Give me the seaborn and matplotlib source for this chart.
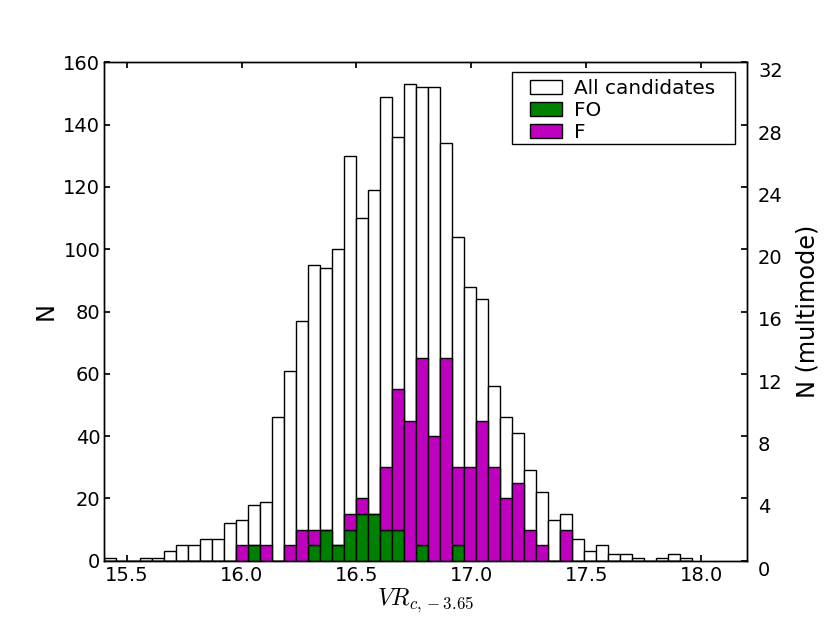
import numpy as np
import pandas as pd
import seaborn as sns
import matplotlib.pyplot as plt
from matplotlib.patches import Patch
from matplotlib.path import Path

# histogram binning (VR magnitude)
mag_lo = 15.40
mag_hi = 17.96
n_bins = 49

# all candidates per bin (left axis)
n_all = [1, 0, 0, 1, 1, 3, 5, 5, 7, 7,
         12, 13, 18, 19, 46, 61, 77, 95, 94, 100,
         130, 110, 119, 149, 136, 153, 152, 152, 134, 104,
         88, 84, 56, 46, 41, 29, 22, 13, 15, 7,
         3, 5, 2, 2, 1, 0, 1, 2, 1]

# multimode stars per bin (right axis)
n_fo = [0, 0, 0, 0, 0, 0, 0, 0, 0, 0,
        0, 0, 1, 0, 0, 0, 0, 1, 2, 1,
        2, 3, 3, 2, 2, 0, 1, 0, 0, 1,
        0, 0, 0, 0, 0, 0, 0, 0, 0, 0,
        0, 0, 0, 0, 0, 0, 0, 0, 0]
n_f = [0, 0, 0, 0, 0, 0, 0, 0, 0, 0,
       0, 1, 0, 1, 0, 1, 2, 1, 0, 0,
       1, 1, 0, 4, 9, 9, 12, 8, 13, 5,
       6, 9, 6, 4, 5, 2, 1, 0, 2, 0,
       0, 0, 0, 0, 0, 0, 0, 0, 0]

GREEN = "#008000"
MAGENTA = "#bf00bf"

sns.set_theme(style="ticks", rc={
    "font.size": 12,
    "xtick.labelsize": 14,
    "ytick.labelsize": 14,
    "xtick.direction": "in",
    "ytick.direction": "in",
    "xtick.top": True,
    "xtick.major.size": 4,
    "ytick.major.size": 4,
    "xtick.major.pad": 3.5,
    "axes.edgecolor": "black",
    "axes.linewidth": 1.0,
    "text.color": "black",
    "axes.labelcolor": "black",
    "xtick.color": "black",
    "ytick.color": "black",
    "mathtext.fontset": "cm",
})
plt.rcParams["font.family"] = ["DejaVu Sans"]

edges = list(np.linspace(mag_lo, mag_hi, n_bins + 1))
centers = (np.array(edges[:-1]) + np.array(edges[1:])) / 2

fig = plt.figure(figsize=(8.3, 6.23), dpi=100)
ax = fig.add_axes([0.125, 0.1, 0.775, 0.8])

all_df = pd.DataFrame({"mag": centers, "n": n_all})
sns.histplot(all_df, x="mag", weights="n", bins=edges, color="white",
             edgecolor="black", linewidth=1, alpha=1, ax=ax)

ax2 = ax.twinx()
df = pd.DataFrame({
    "mag": np.r_[centers, centers],
    "n": np.r_[n_fo, n_f],
    "mode": ["FO"] * n_bins + ["F"] * n_bins,
})
sns.histplot(df, x="mag", weights="n", hue="mode", hue_order=["F", "FO"],
             multiple="stack", bins=edges, palette={"FO": GREEN, "F": MAGENTA},
             edgecolor="black", linewidth=1, alpha=1, legend=False, ax=ax2)

ax.set_xlim(15.4, 18.2)
ax.set_ylim(0, 160)
ax2.set_ylim(0, 32)
ax.set_xticks(np.arange(15.5, 18.01, 0.5))
ax.set_yticks(np.arange(0, 161, 20))
ax2.set_yticks(np.arange(0, 33, 4))
ax.tick_params(axis="y", pad=2.5)
ax2.tick_params(axis="y", pad=8)
for lab in ax2.get_yticklabels():
    lab.set_va("top")

ax.set_xlabel(r"$VR_{c,-3.65}$", fontsize="x-large", labelpad=1.5)
ax.set_ylabel("N", fontsize="x-large")
ax2.set_ylabel("N (multimode)", fontsize="x-large", labelpad=9)


def legend_box(x0, y0, width, height, mutation_size):
    # frame with wide side margins and tight top/bottom
    left, right = 0.9 * mutation_size, 1.0 * mutation_size
    bottom, top = 0.1 * mutation_size, 0.35 * mutation_size
    x1, y1 = x0 + width + right, y0 + height + top
    x0, y0 = x0 - left, y0 - bottom
    return Path([(x0, y0), (x1, y0), (x1, y1), (x0, y1), (x0, y0)], closed=True)


handles = [Patch(fc="white", ec="black", label="All candidates"),
           Patch(fc=GREEN, ec="black", label="FO"),
           Patch(fc=MAGENTA, ec="black", label="F")]
leg = ax2.legend(handles=handles, loc="upper right",
                 bbox_to_anchor=(0.9503, 0.9659), borderaxespad=0,
                 fontsize="large", fancybox=False, edgecolor="black",
                 framealpha=1, handlelength=1.6, handletextpad=0.6,
                 labelspacing=0.15, borderpad=0)
leg.get_frame().set_linewidth(1.0)
leg.get_frame().set_boxstyle(legend_box)

fig.savefig("out.png", dpi=100)
